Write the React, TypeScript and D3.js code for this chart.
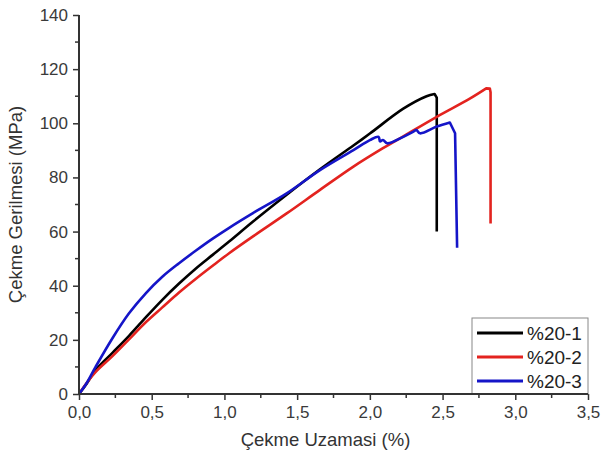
import React, { useEffect, useRef } from "react";
import * as d3 from "d3";

const seriesNames = ["%20-1", "%20-2", "%20-3"];
const seriesColors = ["#000000", "#e3231f", "#1515c8"];

const strain1 = [0, 0.05, 0.115, 0.23, 0.344, 0.459, 0.573, 0.688, 0.802, 0.917, 1.03, 1.199, 1.428, 1.657, 1.887, 2.0, 2.23, 2.39, 2.445, 2.46, 2.46];
const stress1 = [0, 3.6, 8.9, 15.2, 21.5, 28.3, 34.8, 40.8, 46.3, 51.3, 56.2, 63.8, 73.6, 83.0, 91.8, 96.2, 105.4, 110.0, 110.8, 109.5, 60];

const strain2 = [0, 0.05, 0.115, 0.23, 0.344, 0.459, 0.573, 0.688, 0.802, 0.917, 1.03, 1.199, 1.428, 1.657, 1.887, 2.09, 2.23, 2.46, 2.69, 2.80, 2.825, 2.83, 2.83];
const stress2 = [0, 3.9, 8.2, 14.0, 20.2, 26.5, 32.0, 37.5, 42.5, 47.3, 51.9, 58.3, 66.7, 75.4, 84.0, 90.8, 95.2, 102.4, 109.2, 112.9, 112.8, 111.5, 63];

const strain3 = [0, 0.05, 0.115, 0.23, 0.344, 0.459, 0.573, 0.688, 0.802, 0.917, 1.03, 1.199, 1.428, 1.657, 1.887, 2.0, 2.06, 2.07, 2.09, 2.12, 2.23, 2.30, 2.32, 2.345, 2.46, 2.55, 2.586, 2.60];
const stress3 = [0, 3.8, 10.1, 20.6, 29.8, 37.2, 43.3, 48.3, 52.9, 57.3, 61.3, 66.9, 74.1, 82.7, 90.1, 93.8, 95.0, 93.3, 93.8, 92.6, 95.0, 96.9, 97.5, 96.3, 98.8, 100.3, 96.3, 54];

const xTicks = [0, 0.5, 1.0, 1.5, 2.0, 2.5, 3.0, 3.5];
const yTicks = [0, 20, 40, 60, 80, 100, 120, 140];

export default function App() {
  const ref = useRef<SVGSVGElement>(null);

  useEffect(() => {
    const svg = d3.select(ref.current);
    svg.selectAll("*").remove();
    const left = 79, right = 588, top = 15, bottom = 394;
    const x = d3.scaleLinear().domain([0, 3.5]).range([left, right]);
    const y = d3.scaleLinear().domain([0, 140]).range([bottom, top]);
    const font = "'Liberation Sans', Arial, sans-serif";
    const axisColor = "#333";

    const data = [
      strain1.map((s, i) => [s, stress1[i]]),
      strain2.map((s, i) => [s, stress2[i]]),
      strain3.map((s, i) => [s, stress3[i]]),
    ];
    const smooth = d3.line<number[]>().x((d) => x(d[0])).y((d) => y(d[1]))
      .curve(d3.curveCatmullRom.alpha(0.5));
    const straight = d3.line<number[]>().x((d) => x(d[0])).y((d) => y(d[1]));
    data.forEach((d, i) => {
      const peak = d3.maxIndex(d, (p) => p[1]);
      const pathD = (smooth(d.slice(0, peak + 1)) || "") +
        (straight(d.slice(peak)) || "").replace(/^M/, "L");
      svg.append("path")
        .attr("d", pathD)
        .attr("fill", "none")
        .attr("stroke", seriesColors[i])
        .attr("stroke-width", 2.6)
        .attr("stroke-linejoin", "round");
    });

    const xAxis = d3.axisBottom(x).tickValues(xTicks).tickSize(6).tickPadding(6)
      .tickFormat((d) => d3.format(".1f")(d as number).replace(".", ","));
    const gx = svg.append("g").attr("transform", `translate(0,${bottom})`).call(xAxis);
    const xMinor = d3.range(0.25, 3.5, 0.5);
    gx.selectAll(".minor").data(xMinor).enter().append("line")
      .attr("x1", (d) => x(d)).attr("x2", (d) => x(d)).attr("y1", 0).attr("y2", 4)
      .attr("stroke", axisColor).attr("stroke-width", 1.5);

    const yAxis = d3.axisLeft(y).tickValues(yTicks).tickSize(6).tickPadding(5);
    const gy = svg.append("g").attr("transform", `translate(${left},0)`).call(yAxis);
    const yMinor = d3.range(10, 140, 20);
    gy.selectAll(".minor").data(yMinor).enter().append("line")
      .attr("y1", (d) => y(d)).attr("y2", (d) => y(d)).attr("x1", 0).attr("x2", -4)
      .attr("stroke", axisColor).attr("stroke-width", 1.5);

    [gx, gy].forEach((g) => {
      g.select(".domain").attr("stroke", axisColor).attr("stroke-width", 2);
      g.selectAll(".tick line").attr("stroke", axisColor).attr("stroke-width", 1.5);
      g.selectAll(".tick text").attr("fill", "#3a3a3a").attr("font-size", 17).attr("font-family", font);
    });
    gx.select(".domain").attr("d", `M${left},0H${right}`);
    gy.select(".domain").attr("d", `M0,${bottom}V${top}`);

    svg.append("text").attr("x", (left + right) / 2 - 8).attr("y", 446)
      .attr("text-anchor", "middle").attr("font-size", 18.5).attr("font-family", font).attr("fill", "#333")
      .text("Çekme Uzamasi (%)");
    svg.append("text").attr("transform", `translate(22,${(top + bottom) / 2}) rotate(-90)`)
      .attr("text-anchor", "middle").attr("font-size", 18.5).attr("font-family", font).attr("fill", "#333")
      .text("Çekme Gerilmesi (MPa)");

    const lg = svg.append("g");
    lg.append("rect").attr("x", 472).attr("y", 318).attr("width", 116).attr("height", 76)
      .attr("fill", "white").attr("stroke", "#888").attr("stroke-width", 1);
    seriesNames.forEach((n, i) => {
      const yy = 333 + i * 24;
      lg.append("line").attr("x1", 477).attr("x2", 523).attr("y1", yy).attr("y2", yy)
        .attr("stroke", seriesColors[i]).attr("stroke-width", 3);
      lg.append("text").attr("x", 527).attr("y", yy + 6.5).attr("font-size", 19)
        .attr("font-family", font).attr("fill", "#222").text(n);
    });
    svg.append("line").attr("x1", left).attr("x2", right).attr("y1", bottom).attr("y2", bottom)
      .attr("stroke", axisColor).attr("stroke-width", 2);
  }, []);

  return (
    <svg ref={ref} width={602} height={458}
      style={{ position: "absolute", left: 0, top: 0, background: "white" }} />
  );
}
